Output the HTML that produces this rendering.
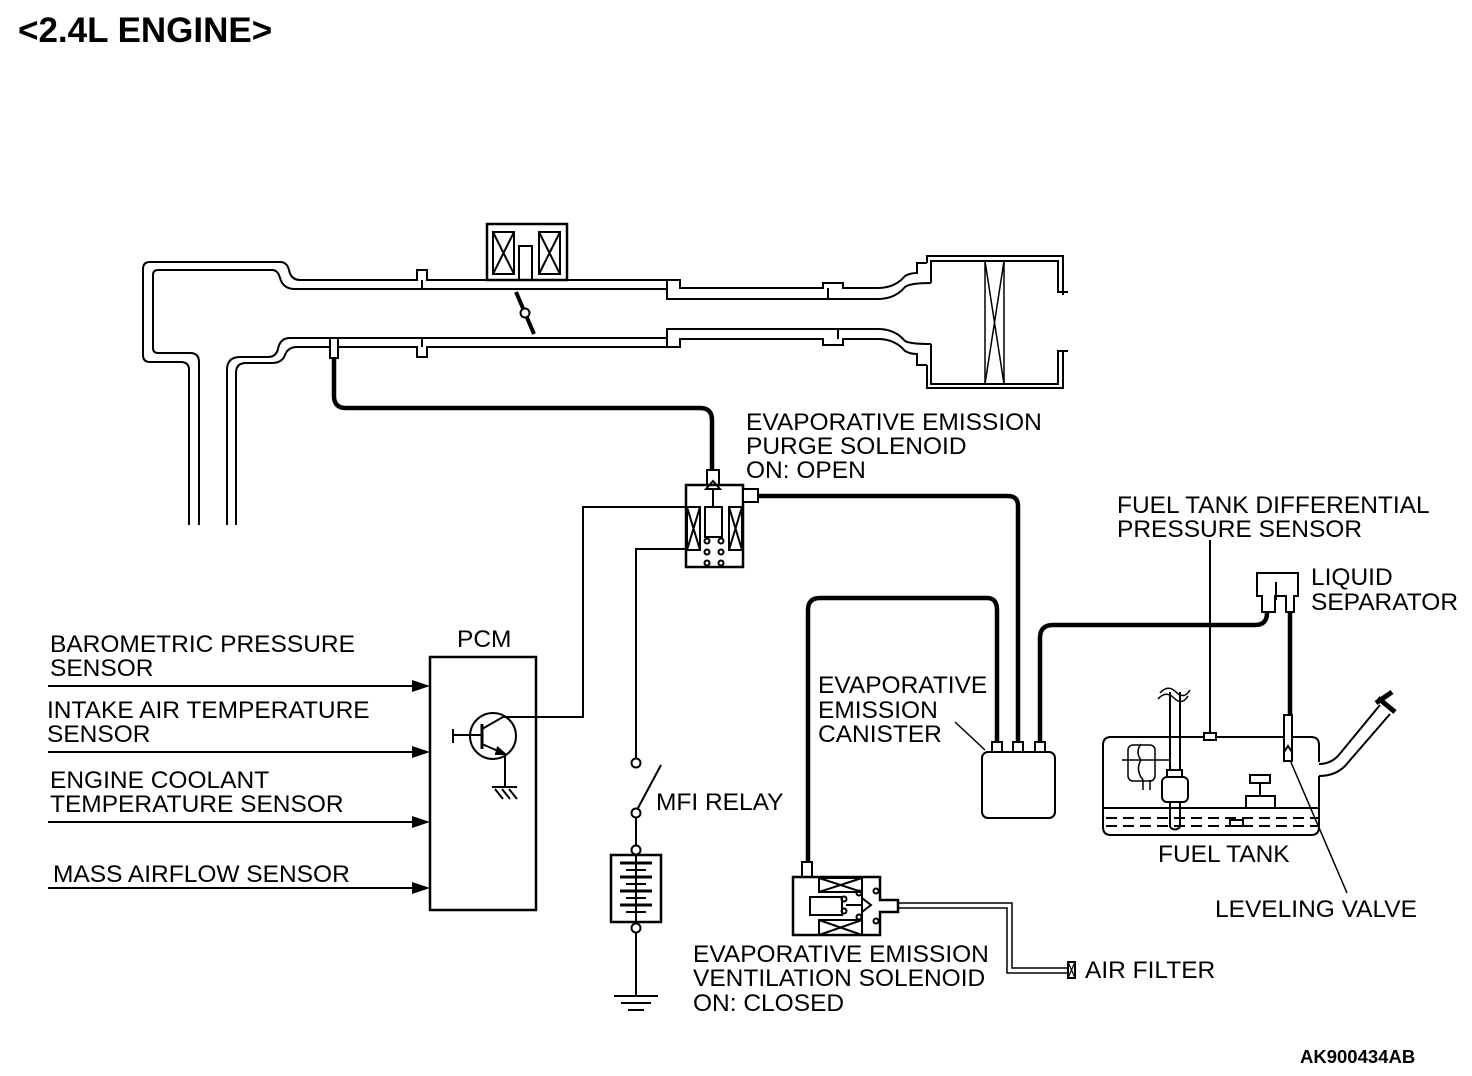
<!DOCTYPE html>
<html><head><meta charset="utf-8"><style>
html,body{margin:0;padding:0;background:#fff;}
svg{display:block;}
text{font-family:"Liberation Sans",Arial,sans-serif;font-size:24.5px;fill:#000;}
</style></head><body>
<svg width="1472" height="1076" viewBox="0 0 1472 1076" xmlns="http://www.w3.org/2000/svg">
<rect width="1472" height="1076" fill="#fff"/>
<text x="18" y="42" style="font-size:35px;font-weight:bold">&lt;2.4L ENGINE&gt;</text>

<g fill="none" stroke="#000" stroke-width="2">
<path d="M189,525 V370 Q189,362 181,362 H150 Q143,362 143,355 V269 Q143,262 150,262 H280 Q287,262 289,270 Q291,280 300,280 H417 V270 H427 V280 H487"/>
<path d="M199,525 V362 Q199,353 190,353 H158 Q153,353 153,348 V275 Q153,270 158,270 H272 Q278,270 280,278 Q283,289 295,289 H422 V280 M422,289 H667"/>
<path d="M567,280 H667 V289 M667,289 V299 H680"/>
<path d="M227,525 V370 Q227,357 240,357 H268 Q276,357 278,349 Q280,338 290,338 H667"/>
<path d="M236,525 V373 Q236,363 246,363 H272 Q282,363 285,355 Q288,347 297,347 H417 V357 H427 V347 H667"/>
<path d="M422,338 V347"/>
<path d="M667,280 H680 V288 H823 V283 H843 V288 H878 Q895,288 905,276 Q910,273 917,273 V263 H927"/>
<path d="M680,299 H878 Q895,299 905,287 Q910,283 931,283"/>
<path d="M828,288 V299"/>
<path d="M667,338 V347 H680 V339 H823 V345 H843 V339 H878 Q895,339 905,351 Q910,354 917,354 V365 H927"/>
<path d="M680,329 H878 Q895,329 905,341 Q910,344 931,344"/>
<path d="M838,329 V339"/>
<path d="M667,338 V329 H680"/>
<!-- air cleaner box -->
<path d="M927,263 V256 H1063 V295"/>
<path d="M1063,351 V388 H927 V365"/>
<path d="M931,283 V261 H1058 V292 H1068"/>
<path d="M1068,351 H1058 V384 H931 V344"/>
<path d="M985,261 V384 M1004,261 V384 M985,261 L1004,384 M1004,261 L985,384" stroke-width="1.5"/>
<rect x="487" y="224" width="80" height="56" stroke-width="2.5"/>
<rect x="493" y="232" width="21" height="42"/><path d="M493,232 L514,274 M514,232 L493,274"/>
<rect x="539" y="232" width="21" height="42"/><path d="M539,232 L560,274 M560,232 L539,274"/>
<rect x="519" y="246" width="13" height="34"/>
<path d="M516,292 L534,334" stroke-width="4"/>
<circle cx="525" cy="313" r="4.5" fill="#fff"/>
<rect x="330" y="338" width="8" height="20" fill="#fff"/>
</g>

<g fill="none" stroke="#000" stroke-width="4.5">
<path d="M334,358 V396 Q334,408 346,408 H700 Q712,408 712,420 V470"/>
<path d="M758,496 H1008 Q1018,496 1018,506 V742"/>
<path d="M808,862 V610 Q808,598 820,598 H987 Q997,598 997,610 V742"/>
<path d="M1040,742 V638 Q1040,625 1053,625 H1255 Q1267,625 1267,613"/>
<path d="M1290,613 V715"/>
</g>

<g fill="none" stroke="#000" stroke-width="2">
<rect x="707" y="470" width="12" height="15" fill="#fff"/>
<rect x="686" y="485" width="57" height="82" stroke-width="2.5" fill="#fff"/>
<rect x="743" y="489" width="15" height="13" fill="#fff"/>
<rect x="687" y="507" width="13" height="43"/><path d="M687,507 L700,550 M700,507 L687,550"/>
<rect x="729" y="507" width="13" height="43"/><path d="M729,507 L742,550 M742,507 L729,550"/>
<rect x="705" y="507" width="17" height="30"/>
<path d="M713,507 V489 M706,489 L713,481 L720,489 Z"/>
<circle cx="707" cy="541" r="2.5"/><circle cx="721" cy="541" r="2.5"/>
<circle cx="707" cy="552" r="2.5"/><circle cx="721" cy="552" r="2.5"/>
<circle cx="707" cy="563" r="2.5"/><circle cx="721" cy="563" r="2.5"/>
<path d="M686,507 H583 V717 H503"/>
<path d="M686,549 H636 V758"/>
<circle cx="636" cy="763" r="4.5"/>
<circle cx="636" cy="813" r="4.5"/>
<path d="M638,808 L661,765"/>
<path d="M636,818 V845"/>
<circle cx="636" cy="850" r="4.5"/>
<rect x="611" y="855" width="50" height="67" stroke-width="2.5"/>
<circle cx="636" cy="928" r="4.5"/>
<path d="M636,933 V996 M614,996 H658 M621,1003 H651 M628,1010 H644"/>
</g>
<g stroke="#000" stroke-width="2">
<path d="M636,855 V922"/>
<path d="M620,863 H652" stroke-width="3"/><path d="M626,870 H646"/>
<path d="M620,877 H652" stroke-width="3"/><path d="M626,884 H646"/>
<path d="M620,891 H652" stroke-width="3"/><path d="M626,898 H646"/>
<path d="M620,905 H652" stroke-width="3"/><path d="M626,912 H646"/>
</g>

<g fill="none" stroke="#000" stroke-width="2">
<rect x="430" y="657" width="106" height="253" stroke-width="2.5"/>
<circle cx="493" cy="736" r="23"/>
<path d="M482,724 V749" stroke-width="3"/>
<path d="M453,735 H482 M453,729 V743"/>
<path d="M482,729 L503,717"/>
<path d="M482,744 L505,754 V787 M492,787 H517 M495,789 L503,799 M502,789 L510,799 M509,789 L517,799"/>
<path d="M497,747 L505,754 L495,754" fill="#000"/>
<path d="M48,686 H415 M48,752 H415 M48,822 H415 M48,888 H415"/>
</g>
<g fill="#000">
<path d="M430,686 L412,680 L412,692 Z"/><path d="M430,752 L412,746 L412,758 Z"/>
<path d="M430,822 L412,816 L412,828 Z"/><path d="M430,888 L412,882 L412,894 Z"/>
</g>

<g fill="#fff" stroke="#000" stroke-width="2">
<rect x="982" y="752" width="73" height="66" rx="6"/>
<rect x="992" y="742" width="10" height="10"/>
<rect x="1013" y="742" width="10" height="10"/>
<rect x="1035" y="742" width="10" height="10"/>
</g>
<path d="M955,722 L985,750" stroke="#000" stroke-width="1.5"/>

<g fill="none" stroke="#000" stroke-width="2">
<path d="M802,877 V862 H812 V877" fill="#fff"/>
<path d="M793,877 H880 V900 H898 V912 H880 V935 H793 Z" stroke-width="2.5" fill="#fff"/>
<rect x="819" y="878" width="43" height="14"/><path d="M819,878 L862,892 M862,878 L819,892"/>
<rect x="819" y="920" width="43" height="15"/><path d="M819,920 L862,935 M862,920 L819,935"/>
<path d="M862,877 V935"/>
<rect x="810" y="897" width="32" height="18"/>
<circle cx="844" cy="899" r="2.5"/><circle cx="844" cy="911" r="2.5"/>
<circle cx="859" cy="893" r="2.5"/><circle cx="859" cy="917" r="2.5"/>
<circle cx="876" cy="891" r="2.5"/><circle cx="876" cy="921" r="2.5"/>
<path d="M846,905 H862 M862,898 L871,905 L862,912 Z"/>
<path d="M898,903 H1012 V968 H1068 M898,908 H1007 V973 H1068" stroke-width="1.5"/>
<rect x="1068" y="962" width="7" height="16"/><path d="M1068,962 L1075,978 M1075,962 L1068,978" stroke-width="1.2"/>
</g>

<g fill="none" stroke="#000" stroke-width="2">
<path d="M1257,573 H1298 V596 H1294 V612 H1286 V596 H1275 V612 H1262 V596 H1257 Z" fill="#fff"/>
<path d="M1276,582 V600"/>
<path d="M1210,540 V733"/>
<rect x="1204" y="733" width="12" height="7" fill="#fff"/>
<path d="M1319,762 V745 Q1319,737 1311,737 H1292 M1284,737 H1216 M1204,737 H1111 Q1103,737 1103,745 V827 Q1103,835 1111,835 H1311 Q1319,835 1319,827 V776"/>
<path d="M1103,808 H1319"/>
<path d="M1106,818 H1318 M1106,826 H1318" stroke-dasharray="11,6"/>
<rect x="1284" y="715" width="8" height="46" fill="#fff"/>
<path d="M1284,752 L1288,746 L1292,752"/>
<path d="M1290,760 L1347,893" stroke-width="1.5"/>
<path d="M1319,764 Q1330,764 1338,756 L1380,705 M1319,776 Q1335,776 1345,766 L1390,714"/>
<path d="M1376,703 L1392,692 M1378,698 L1395,712" stroke-width="5"/>
<path d="M1170,692 V827 M1180,692 V827 M1170,827 Q1175,832 1180,827"/>
<path d="M1160,693 Q1168,684 1176,692 Q1184,700 1190,690 M1158,699 Q1166,690 1174,698 Q1182,706 1188,696" stroke-width="1.5"/>
<rect x="1167" y="770" width="15" height="7" fill="#fff"/>
<rect x="1162" y="777" width="26" height="25" rx="5" fill="#fff"/>
<rect x="1128" y="745" width="27" height="36" rx="5" stroke-width="1.5"/>
<path d="M1122,760 H1170 M1141,744 Q1135,752 1141,760 Q1135,770 1143,780 V790 M1150,780 V790" stroke-width="1.5"/>
<rect x="1250" y="775" width="20" height="8"/>
<path d="M1260,783 V796"/>
<rect x="1246" y="796" width="29" height="12"/>
<rect x="1230" y="820" width="13" height="6" fill="#fff"/>
</g>

<text x="746" y="430">EVAPORATIVE EMISSION</text>
<text x="746" y="454">PURGE SOLENOID</text>
<text x="746" y="478">ON: OPEN</text>
<text x="1117" y="513">FUEL TANK DIFFERENTIAL</text>
<text x="1117" y="537">PRESSURE SENSOR</text>
<text x="1311" y="585">LIQUID</text>
<text x="1311" y="610">SEPARATOR</text>
<text x="50" y="652">BAROMETRIC PRESSURE</text>
<text x="50" y="676">SENSOR</text>
<text x="47" y="718">INTAKE AIR TEMPERATURE</text>
<text x="47" y="742">SENSOR</text>
<text x="50" y="788">ENGINE COOLANT</text>
<text x="50" y="812">TEMPERATURE SENSOR</text>
<text x="53" y="882">MASS AIRFLOW SENSOR</text>
<text x="457" y="647">PCM</text>
<text x="818" y="693">EVAPORATIVE</text>
<text x="818" y="718">EMISSION</text>
<text x="818" y="742">CANISTER</text>
<text x="656" y="810">MFI RELAY</text>
<text x="1158" y="862">FUEL TANK</text>
<text x="1215" y="917">LEVELING VALVE</text>
<text x="693" y="962">EVAPORATIVE EMISSION</text>
<text x="693" y="986">VENTILATION SOLENOID</text>
<text x="693" y="1011">ON: CLOSED</text>
<text x="1085" y="978">AIR FILTER</text>
<text x="1300" y="1063" style="font-size:18.5px;font-weight:bold">AK900434AB</text>
</svg>
</body></html>
